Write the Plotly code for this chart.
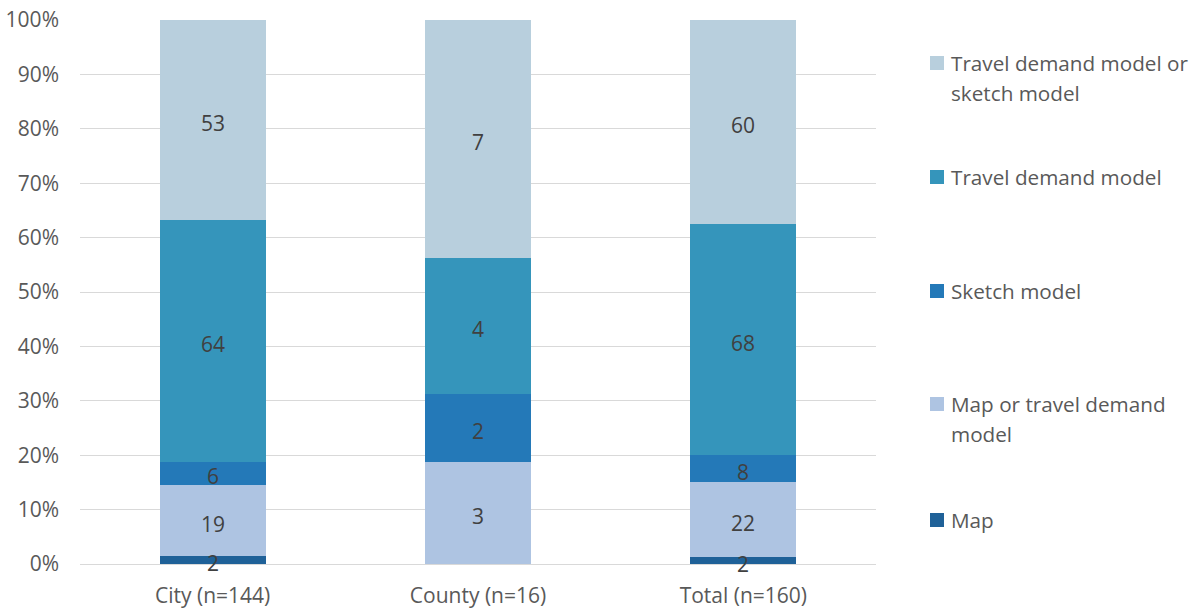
import plotly.graph_objects as go

# Categories and counts per forecasting method
categories = ["City (n=144)", "County (n=16)", "Total (n=160)"]
series_names = [
    "Map",
    "Map or travel demand<br>model",
    "Sketch model",
    "Travel demand model",
    "Travel demand model or<br>sketch model",
]
map_counts = [2, 0, 2]
map_or_tdm_counts = [19, 3, 22]
sketch_counts = [6, 2, 8]
tdm_counts = [64, 4, 68]
tdm_or_sketch_counts = [53, 7, 60]

series_values = [map_counts, map_or_tdm_counts, sketch_counts, tdm_counts, tdm_or_sketch_counts]
colors = ["#1f6198", "#aec4e2", "#2479b8", "#3595bb", "#b8cfdd"]

FONT = "Open Sans"
W, H = 1194, 608
ML, MR, MT, MB = 80, 318, 20, 44
PW, PH = W - ML - MR, H - MT - MB

totals = [sum(col) for col in zip(*series_values)]

fig = go.Figure()
for name, vals, col in zip(series_names, series_values, colors):
    fig.add_trace(go.Bar(
        x=categories,
        y=vals,
        name=name.replace("<br>", " "),
        marker=dict(color=col, line=dict(width=0)),
        hoverinfo="skip",
        showlegend=False,
    ))

annotations = []

# Count labels centred on each stacked segment (drawn above all bars)
for ci, cat in enumerate(categories):
    base = 0.0
    for vals in series_values:
        share = vals[ci] / totals[ci] * 100
        if vals[ci]:
            annotations.append(dict(
                x=cat, y=base + share / 2, xref="x", yref="y",
                text=str(vals[ci]), showarrow=False,
                xanchor="center", yanchor="middle", yshift=-3,
                font=dict(color="#404040", size=21, family=FONT),
            ))
        base += share

# Legend on the right, top entry = top of the stack
def px_to_paper_x(px):
    return (px - ML) / PW

def px_to_paper_y(py):
    return (H - MB - py) / PH

shapes = []
first_line_y = [520, 404, 291, 177, 63]  # Map ... Travel demand model or sketch model
for name, col, ly in zip(series_names, colors, first_line_y):
    shapes.append(dict(
        type="rect", xref="paper", yref="paper",
        x0=px_to_paper_x(930), x1=px_to_paper_x(944),
        y0=px_to_paper_y(ly + 7), y1=px_to_paper_y(ly - 7),
        fillcolor=col, line=dict(width=0),
    ))
    for k, line in enumerate(name.split("<br>")):
        annotations.append(dict(
            xref="paper", yref="paper",
            x=px_to_paper_x(949), y=px_to_paper_y(ly + 30 * k),
            xanchor="left", yanchor="middle", showarrow=False,
            text=line, font=dict(size=20.7, color="#595959", family=FONT),
        ))

fig.update_layout(
    barmode="stack",
    barnorm="percent",
    bargap=0.6,
    width=W,
    height=H,
    margin=dict(l=ML, r=MR, t=MT, b=MB, autoexpand=False),
    paper_bgcolor="white",
    plot_bgcolor="white",
    font=dict(family=FONT, size=21, color="#595959"),
    showlegend=False,
    shapes=shapes,
    annotations=annotations,
)
fig.update_yaxes(
    range=[0, 100],
    dtick=10,
    ticksuffix="%",
    showgrid=True,
    gridcolor="#d9d9d9",
    gridwidth=1,
    zeroline=False,
    showline=False,
    ticks="",
    ticklabelstandoff=20,
    automargin=False,
)
fig.update_xaxes(
    showline=True,
    linecolor="#d9d9d9",
    linewidth=1,
    ticks="",
    ticklabelstandoff=13,
    automargin=False,
)

fig.write_html("out.html")
